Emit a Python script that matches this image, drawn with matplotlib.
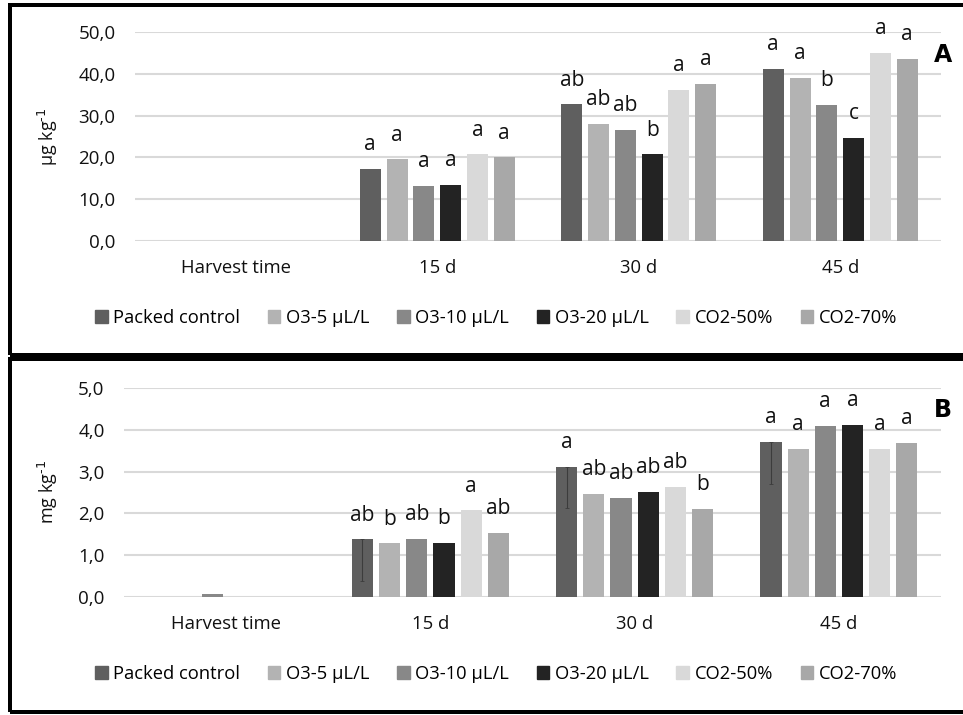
import numpy as np
import matplotlib
matplotlib.use("Agg")
import matplotlib.pyplot as plt
from matplotlib.patches import Rectangle, Patch

plt.rcParams["font.family"] = ["Open Sans", "DejaVu Sans"]

categories = ["Harvest time", "15 d", "30 d", "45 d"]
series = ["Packed control", "O3-5 µL/L", "O3-10 µL/L", "O3-20 µL/L", "CO2-50%", "CO2-70%"]
colors = ["#5f5f5f", "#b3b3b3", "#888888", "#232323", "#d9d9d9", "#a8a8a8"]

# panel A (µg/kg); harvest time has no bars
a_vals = [
    [np.nan, 17.2, 32.7, 41.1],
    [np.nan, 19.5, 28.1, 39.0],
    [np.nan, 13.2, 26.6, 32.5],
    [np.nan, 13.5, 20.7, 24.6],
    [np.nan, 20.7, 36.1, 45.0],
    [np.nan, 20.0, 37.6, 43.5],
]
a_letters = [
    ["", "a", "ab", "a"],
    ["", "a", "ab", "a"],
    ["", "a", "ab", "b"],
    ["", "a", "b", "c"],
    ["", "a", "a", "a"],
    ["", "a", "a", "a"],
]

# panel B (mg/kg)
b_vals = [
    [np.nan, 1.38, 3.12, 3.71],
    [np.nan, 1.28, 2.46, 3.55],
    [0.08, 1.39, 2.38, 4.09],
    [np.nan, 1.29, 2.52, 4.11],
    [np.nan, 2.07, 2.64, 3.55],
    [np.nan, 1.53, 2.11, 3.69],
]
b_err_control = [0.0, 0.99, 0.98, 1.0]
b_letters = [
    ["", "ab", "a", "a"],
    ["", "b", "ab", "a"],
    ["", "ab", "ab", "a"],
    ["", "b", "ab", "a"],
    ["", "a", "ab", "a"],
    ["", "ab", "b", "a"],
]

W, H = 963, 715
fig = plt.figure(figsize=(W / 100, H / 100), dpi=100)


def px_axes(x0, x1, y_top, y_bot):
    return fig.add_axes([x0 / W, 1 - y_bot / H, (x1 - x0) / W, (y_bot - y_top) / H])


def draw_panel(ax, vals, letters, ymax, step, ylabel, tag, err=None):
    x = np.arange(len(categories))
    step_w = 0.133
    bw = 0.104
    for i, (name, v) in enumerate(zip(series, vals)):
        pos = x + (i - 2.5) * step_w
        ax.bar(pos, v, width=bw, color=colors[i], zorder=3)
        if err is not None and i == 0:
            vv = np.array(v, dtype=float)
            e = np.array(err)
            m = ~np.isnan(vv) & (e > 0)
            ax.errorbar(pos[m], vv[m], yerr=[e[m], np.zeros(m.sum())], fmt="none",
                        ecolor="#3c3c3c", elinewidth=0.8, capsize=1.5, capthick=0.6, zorder=4)
        for j, lab in enumerate(letters[i]):
            if lab and not np.isnan(v[j]):
                ax.annotate(lab, (pos[j], v[j]), xytext=(0, 13.5), textcoords="offset points",
                            ha="center", va="baseline", fontsize=15, color="#111111")
    ax.set_xlim(-0.5, len(categories) - 0.5)
    ax.set_ylim(0, ymax)
    ticks = np.arange(0, ymax + step / 2, step)
    ax.set_yticks(ticks)
    ax.set_yticklabels([f"{t:.1f}".replace(".", ",") for t in ticks])
    ax.set_xticks(x)
    ax.set_xticklabels(categories)
    ax.grid(axis="y", color="#d9d9d9", lw=1.5, zorder=0)
    for s in ax.spines.values():
        s.set_visible(False)
    ax.tick_params(axis="y", length=0, pad=14, labelsize=13.5, colors="#111111")
    ax.tick_params(axis="x", length=0, pad=13, labelsize=13.3, colors="#111111")
    ax.set_ylabel(ylabel, fontsize=13, labelpad=13, color="#111111")
    ax.text(1.0, 0.893, tag, transform=ax.transAxes, fontsize=17, fontweight="bold",
            family="DejaVu Sans", ha="right", va="center")


ax_a = px_axes(135, 941, 32, 241)
draw_panel(ax_a, a_vals, a_letters, 50, 10, r"µg kg$^{\text{-1}}$", "A")
ax_a.texts[-1].set_position((1.0 + 11 / 806, 0.89))

ax_b = px_axes(124, 941, 388, 597)
draw_panel(ax_b, b_vals, b_letters, 5, 1, r"mg kg$^{\text{-1}}$", "B", err=b_err_control)
ax_b.texts[-1].set_position((1.0 + 11 / 817, 0.895))

handles = [Patch(color=c, label=s) for c, s in zip(colors, series)]
for yc in (318, 674):
    fig.legend(handles=handles, loc="center", bbox_to_anchor=(496 / W, 1 - yc / H), ncol=6,
               frameon=False, fontsize=13.2, handlelength=0.7, handleheight=0.7,
               handletextpad=0.3, columnspacing=1.5)

# box outlines
lw = 4 * 0.72
fig.patches.append(Rectangle((10 / W, 1 - 355 / H), 980 / W, 350 / H, transform=fig.transFigure,
                             fill=False, ec="black", lw=lw))
fig.patches.append(Rectangle((10 / W, 1 - 712 / H), 980 / W, 353 / H, transform=fig.transFigure,
                             fill=False, ec="black", lw=lw))

fig.savefig("out.png", dpi=100)
